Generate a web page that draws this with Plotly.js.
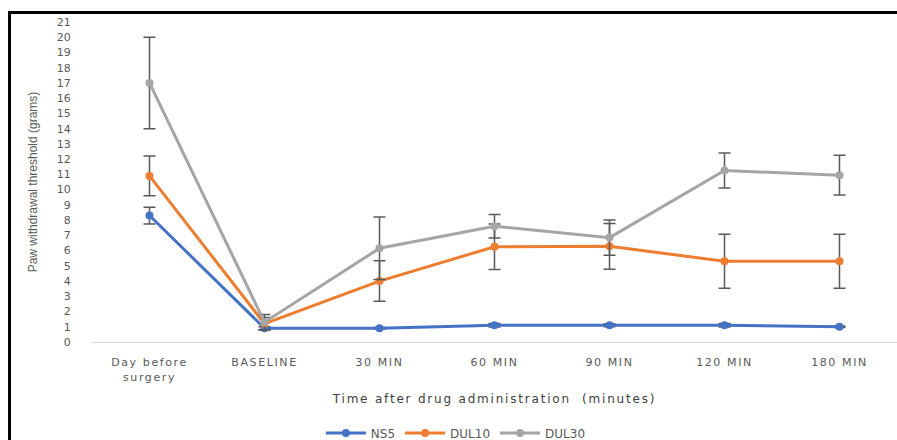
<!DOCTYPE html>
<html>
<head>
<meta charset="utf-8">
<script src="https://cdn.plot.ly/plotly-3.0.1.min.js"></script>
<style>
  html, body { margin: 0; padding: 0; background: #fff; }
  #chart { width: 897px; height: 440px; }
  #frame { position: absolute; left: 8px; top: 11px; width: 900px; height: 440px;
           border-left: 3px solid #000; border-top: 3px solid #000; pointer-events: none; }
  .xtick text { letter-spacing: 1.6px; }
  .g-xtitle text { letter-spacing: 1.8px; }
</style>
</head>
<body>
<div id="chart"></div>
<div id="frame"></div>
<script>
const categories = ["Day before<br>surgery", "BASELINE", "30 MIN", "60 MIN", "90 MIN", "120 MIN", "180 MIN"];
const ns5 = [8.3, 0.9, 0.9, 1.1, 1.1, 1.1, 1.0];
const ns5Err = [0.55, 0.1, 0.05, 0.12, 0.1, 0.12, 0.05];
const dul10 = [10.9, 1.2, 4.0, 6.25, 6.28, 5.3, 5.3];
const dul10Err = [1.3, 0.4, 1.33, 1.5, 1.5, 1.77, 1.77];
const dul30 = [17.0, 1.3, 6.15, 7.6, 6.85, 11.25, 10.95];
const dul30Err = [3.0, 0.5, 2.05, 0.77, 1.15, 1.15, 1.3];
const yTicks = [0,1,2,3,4,5,6,7,8,9,10,11,12,13,14,15,16,17,18,19,20,21];

function series(name, y, err, color) {
  return {
    type: 'scatter', mode: 'lines+markers', name: name,
    x: categories, y: y,
    line: {color: color, width: 3},
    marker: {color: color, size: 8},
    error_y: {type: 'data', array: err, visible: true, color: '#595959', thickness: 1.5, width: 6}
  };
}

const data = [
  series('NS5', ns5, ns5Err, '#4472C4'),
  series('DUL10', dul10, dul10Err, '#ED7D31'),
  series('DUL30', dul30, dul30Err, '#A5A5A5')
];

const tickFont = {family: 'DejaVu Sans', size: 11, color: '#595959'};

const layout = {
  width: 897, height: 440,
  margin: {l: 92, r: 0, t: 21.7, b: 97.7},
  paper_bgcolor: '#fff', plot_bgcolor: '#fff',
  showlegend: true,
  legend: {orientation: 'h', xref: 'paper', x: 0.452, xanchor: 'center',
           yref: 'container', y: 0.016, yanchor: 'middle',
           font: {family: 'DejaVu Sans', size: 12, color: '#595959'}, itemwidth: 40, tracegroupgap: 0},
  xaxis: {
    type: 'category', tickfont: tickFont, showgrid: false, zeroline: false, automargin: false,
    showline: true, linecolor: '#d9d9d9', linewidth: 1,
    ticks: 'outside', ticklen: 10, tickcolor: 'rgba(0,0,0,0)',
    range: [-0.5, 6.5],
    title: {text: 'Time after drug administration  (minutes)', font: {family: 'DejaVu Sans', size: 12, color: '#404040'}, standoff: 12}
  },
  yaxis: {
    range: [0, 21], tickvals: yTicks, ticktext: yTicks.map(String), automargin: false,
    tickfont: tickFont, showgrid: false, zeroline: false, showline: false,
    ticks: 'outside', ticklen: 18, tickcolor: 'rgba(0,0,0,0)',
    title: {text: 'Paw withdrawal threshold (grams)', font: {family: 'Liberation Sans Narrow, Liberation Sans, sans-serif', size: 12, color: '#595959'}, standoff: 16}
  }
};

Plotly.newPlot('chart', data, layout, {displayModeBar: false, staticPlot: true});
</script>
</body>
</html>
